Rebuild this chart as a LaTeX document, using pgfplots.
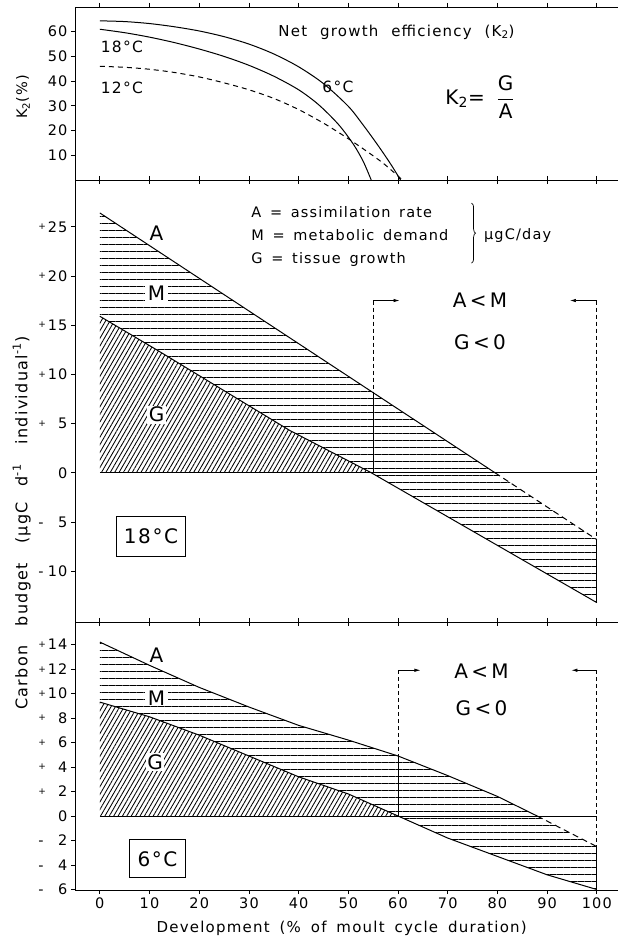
\documentclass[border=0pt]{standalone}
\usepackage{fontspec}
\setmainfont{DejaVu Sans}[LetterSpace=8, WordSpace=1.5]
\usepackage{pgfplots}
\pgfplotsset{compat=1.18}
\usetikzlibrary{patterns.meta, arrows.meta, decorations.pathreplacing}

\newcommand{\fs}[1]{\fontsize{#1}{#1}\selectfont}
\newcommand{\tp}[1]{\hbox to 29pt{\raisebox{0.3ex}{\fs{9}+}\hfil #1}}
\newcommand{\tm}[1]{\hbox to 29pt{-\hfil #1}}

\pgfplotsset{
  panel/.style={
    scale only axis, width=543pt, xmin=-5, xmax=104.26,
    axis x line*=box, axis y line*=left,
    tick align=outside, major tick length=4pt,
    xtick={0,10,...,100},
    axis line style={line width=0.9pt},
    tick style={line width=0.8pt, black},
    ticklabel style={font=\fs{14.5}},
    clip=false,
  },
  hl/.style={pattern={Lines[angle=0,distance=7pt,line width=0.9pt]}, draw=none},
  dl/.style={pattern={Lines[angle=60,distance=3.8pt,line width=0.85pt]}, draw=none},
  br/.style={line width=0.7pt, dash pattern=on 4pt off 3pt},
  ar/.style={line width=0.7pt, -{Latex[length=6pt,width=3.5pt]}},
}

\begin{document}
\begin{tikzpicture}[x=1pt,y=1pt]
\path[use as bounding box] (0,0) rectangle (618,937);

% ---------------- top panel: K2 ----------------
\begin{axis}[panel, at={(75pt,757pt)}, anchor=south west, height=173pt,
  ymin=0, ymax=70, ytick={10,20,30,40,50,60},
  yticklabels={10,20,30,40,50,60}, xticklabels={}]
% 6 C
\addplot[line width=1pt, smooth, tension=0.5] coordinates {
 (0,64.4) (5,64.1) (10,63.3) (15,62.0) (20,60.3) (25,58.0) (30,55.0) (35,51.0) (40,45.8) (45,39.0) (50,29.8) (53,22.2) (56,13.9) (58.5,6.5) (60.5,0)};
% 18 C
\addplot[line width=1pt, smooth, tension=0.5] coordinates {
 (0,61) (5,59.6) (10,57.8) (15,55.6) (20,53.0) (25,50.0) (30,46.4) (35,42.0) (40,36.5) (44,30.5) (48,22.5) (51,14.5) (53,7.5) (54.6,0)};
% 12 C
\addplot[line width=1pt, dash pattern=on 5pt off 4pt, smooth, tension=0.5] coordinates {
 (0,46) (5,45.6) (10,44.8) (15,43.5) (20,41.7) (25,39.3) (30,36.5) (35,33.0) (40,28.5) (45,23) (49,18) (53,12.6) (57,6.8) (60.6,0.5)};
\node[font=\fs{15}] at (59.7,59.9) {Net\hspace{4pt} growth\hspace{4pt} efficiency\hspace{4pt} (K\textsubscript{2})};
\node[font=\fs{15.5}, anchor=west] at (-0.5,54) {18°C};
\node[font=\fs{15.5}, anchor=west] at (-0.5,37.1) {12°C};
\node[font=\fs{15.5}] at (47.9,37.8) {6°C};
\node[font=\fs{20}] at (76.5,33.6) {K\textsubscript{2}= $\displaystyle\frac{\mbox{G}}{\mbox{A}}$};
\end{axis}

% ---------------- middle panel: 18 C ----------------
\begin{axis}[panel, at={(75pt,315pt)}, anchor=south west, height=442pt,
  ymin=-15.17, ymax=29.75, ytick={-10,-5,0,5,10,15,20,25},
  yticklabels={\tm{10},\tm{5},0,\tp{5},\tp{10},\tp{15},\tp{20},\tp{25}},
  xticklabels={}]
\addplot[hl] coordinates {(0,26.4) (100,-6.8) (100,-13.2) (54.6,0) (38.2,4.3) (24.8,8.4) (11.4,12.5) (0,15.9)};
\addplot[dl] coordinates {(0,15.9) (11.4,12.5) (24.8,8.4) (38.2,4.3) (54.6,0) (0,0)};
\addplot[line width=1pt] coordinates {(0,26.4) (79.5,0)};
\addplot[line width=1pt, dash pattern=on 6pt off 4pt] coordinates {(79.5,0) (100,-6.8)};
\addplot[line width=1pt] coordinates {(0,15.9) (11.4,12.5) (24.8,8.4) (38.2,4.3) (54.6,0) (100,-13.2)};
\addplot[line width=0.8pt] coordinates {(0,0) (100,0)};
\addplot[br] coordinates {(55,17.5) (55,8.14)};
\addplot[line width=0.7pt] coordinates {(55,8.14) (55,0)};
\addplot[br] coordinates {(100,17.5) (100,-6.8)};
\addplot[line width=0.7pt] coordinates {(100,-6.8) (100,-13.2)};
\addplot[ar] coordinates {(55,17.5) (60.3,17.5)};
\addplot[ar] coordinates {(100,17.5) (94.6,17.5)};
\node[font=\fs{20}] at (11.4,24.3) {A};
\node[font=\fs{20}, fill=white, inner xsep=3pt, inner ysep=0.5pt] at (11.4,18.2) {M};
\node[font=\fs{20}, fill=white, inner sep=1.5pt] at (11.4,5.9) {G};
\node[font=\fs{14.5}, anchor=west] at (29.8,26.5) {A = assimilation rate};
\node[font=\fs{14.5}, anchor=west] at (29.8,24.2) {M = metabolic demand};
\node[font=\fs{14.5}, anchor=west] at (29.8,21.7) {G = tissue growth};
\coordinate (b1) at (74.8,27.4);
\coordinate (b2) at (74.8,21.3);
\node[font=\fs{14.5}, anchor=west] at (76.6,24.1) {µgC/day};
\node[font=\fs{20}] at (76.5,17.5) {A\,<\,M};
\node[font=\fs{20}] at (76.5,13.3) {G\,<\,0};
\node[draw, line width=0.8pt, font=\fs{20}, minimum width=69pt, minimum height=40pt, inner sep=0pt] at (10.3,-6.5) {18°C};
\end{axis}
\draw[line width=0.7pt, decorate, decoration={brace, amplitude=4pt}] (b1) -- (b2);

% ---------------- bottom panel: 6 C ----------------
\begin{axis}[panel, at={(75pt,47pt)}, anchor=south west, height=268pt,
  ymin=-6.04, ymax=15.84, ytick={-6,-4,-2,0,2,4,6,8,10,12,14},
  yticklabels={\tm{6},\tm{4},\tm{2},0,\tp{2},\tp{4},\tp{6},\tp{8},\tp{10},\tp{12},\tp{14}},
  xticklabels={0,10,20,30,40,50,60,70,80,90,100}]
\addplot[hl] coordinates {(0,14.2) (10,12.3) (20,10.5) (30,8.9) (40,7.4) (50,6.2) (60,4.9) (70,3.3) (80,1.6) (88,0) (100,-2.5)
  (100,-6.0) (90,-4.8) (80,-3.3) (70,-1.8) (60,0) (50,1.8) (40,3.2) (30,4.9) (20,6.6) (10,8.1) (0,9.3)};
\addplot[dl] coordinates {(0,9.3) (10,8.1) (20,6.6) (30,4.9) (40,3.2) (50,1.8) (60,0) (0,0)};
\addplot[line width=1pt] coordinates {(0,14.2) (10,12.3) (20,10.5) (30,8.9) (40,7.4) (50,6.2) (60,4.9) (70,3.3) (80,1.6) (88,0)};
\addplot[line width=1pt, dash pattern=on 6pt off 4pt] coordinates {(88,0) (100,-2.5)};
\addplot[line width=1pt] coordinates {(0,9.3) (10,8.1) (20,6.6) (30,4.9) (40,3.2) (50,1.8) (60,0) (70,-1.8) (80,-3.3) (90,-4.8) (100,-6.0)};
\addplot[line width=0.8pt] coordinates {(0,0) (100,0)};
\addplot[br] coordinates {(60,11.9) (60,4.9)};
\addplot[line width=0.7pt] coordinates {(60,4.9) (60,0)};
\addplot[br] coordinates {(100,11.9) (100,-2.5)};
\addplot[line width=0.7pt] coordinates {(100,-2.5) (100,-6)};
\addplot[ar] coordinates {(60,11.9) (64.5,11.9)};
\addplot[ar] coordinates {(100,11.9) (94.9,11.9)};
\node[font=\fs{20}] at (11.4,13.1) {A};
\node[font=\fs{20}, fill=white, inner xsep=3pt, inner ysep=0.5pt] at (11.4,9.6) {M};
\node[font=\fs{20}, fill=white, inner sep=1.5pt] at (11.1,4.4) {G};
\node[font=\fs{20}] at (76.8,11.8) {A\,<\,M};
\node[font=\fs{20}] at (76.8,8.8) {G\,<\,0};
\node[draw, line width=0.8pt, font=\fs{20}, minimum width=56pt, minimum height=38pt, inner sep=0pt] at (11.6,-3.5) {6°C};
\end{axis}

\node[rotate=90, font=\fs{16}] at (21.7,414) {Carbon\hspace{10pt} budget\hspace{10pt} (µgC\hspace{6pt} d\textsuperscript{-1}\hspace{10pt} individual\textsuperscript{-1})};
\node[rotate=90, font=\fs{14.5}] at (23,840.3) {K\textsubscript{2}(\%)};
\node[font=\fs{15}] at (341.7,8.7) {Development\hspace{1pt} (\%\hspace{1pt} of\hspace{1pt} moult\hspace{1pt} cycle\hspace{1pt} duration)};
\end{tikzpicture}
\end{document}
